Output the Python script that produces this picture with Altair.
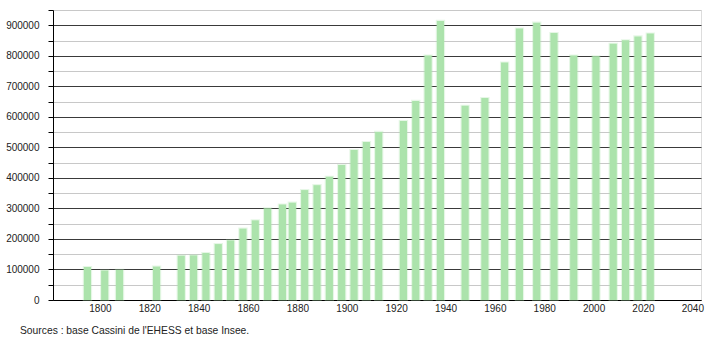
import altair as alt
import pandas as pd

years = [1793, 1800, 1806, 1821, 1831, 1836, 1841, 1846, 1851, 1856, 1861, 1866,
         1872, 1876, 1881, 1886, 1891, 1896, 1901, 1906, 1911, 1921, 1926, 1931,
         1936, 1946, 1954, 1962, 1968, 1975, 1982, 1990, 1999, 2006, 2011, 2016, 2021]
population = [108000, 96500, 98500, 109483, 145115, 146239, 154035, 183186, 195257,
              233817, 260910, 300131, 312864, 318868, 360099, 376143, 403749, 442239,
              491161, 517498, 550619, 586341, 652196, 800881, 914232, 636264, 661492,
              778071, 889029, 908600, 874436, 800550, 798430, 839043, 850636, 863310,
              873076]
x_labels = list(range(1800, 2041, 20))
y_ticks = list(range(0, 950001, 50000))
source = "Sources : base Cassini de l'EHESS et base Insee."

df = pd.DataFrame({"year": years, "pop": population})
df["x0"] = df["year"] + 0.5
df["x1"] = df["year"] + 3.4

font = "Liberation Sans"

xscale = alt.Scale(domain=[1781, 2043.5], nice=False, zero=False)
yscale = alt.Scale(domain=[0, 950000], nice=False)

bars = alt.Chart(df).mark_bar(
    color="#ace3ac", stroke="#ace3ac", strokeWidth=2.2, strokeOpacity=0.3
).encode(
    x=alt.X("x0:Q", scale=xscale, axis=alt.Axis(
        values=x_labels, format="d", title=None, grid=False, ticks=False,
        domainColor="#000", labelFont=font, labelFontSize=10, labelColor="#222",
        labelPadding=3)),
    x2="x1:Q",
    y=alt.Y("pop:Q", scale=yscale, axis=alt.Axis(
        values=y_ticks, format="d", title=None,
        labelExpr="datum.value % 100000 == 0 ? datum.label : ''",
        gridColor={"condition": {"test": "datum.value % 100000 == 0", "value": "#3a3a3a"},
                   "value": "#c8c8c8"},
        gridWidth=1, tickColor="#000", tickSize=5, domainColor="#000",
        labelFont=font, labelFontSize=10, labelColor="#222", labelPadding=9)),
    y2=alt.datum(0),
)

chart = bars.properties(
    width=648, height=290,
    padding={"left": 53, "top": 10, "right": 9, "bottom": 40},
    autosize=alt.AutoSizeParams(type="none"),
    title=alt.TitleParams(text=source, orient="bottom", anchor="start", frame="group",
                          dx=-33, offset=13, font=font, fontSize=10.3,
                          fontWeight="normal", color="#222"),
).configure_view(stroke=None).configure(background="white")

chart.save("out.html", embed_options={"renderer": "svg", "actions": False})
